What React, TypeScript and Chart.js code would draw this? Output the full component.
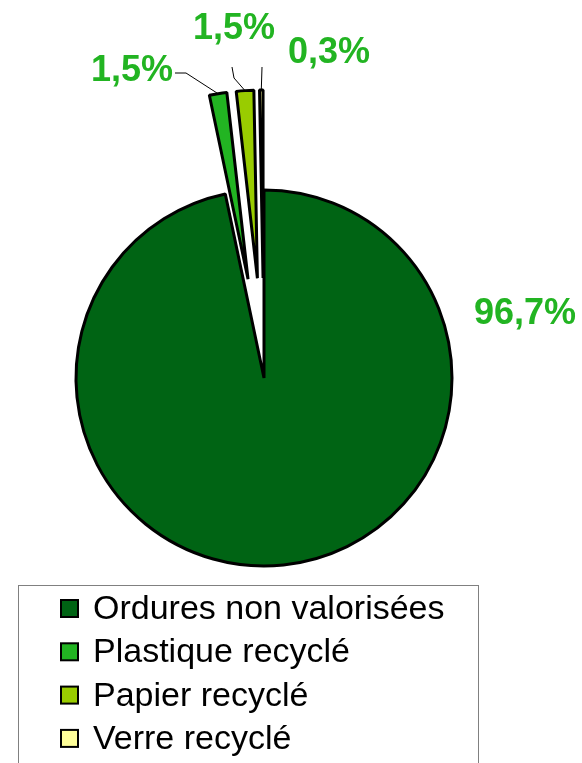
import React, { useEffect, useRef } from "react";
import { Chart, registerables } from "chart.js";

Chart.register(...registerables);

const categories = ["Ordures non valorisées", "Plastique recyclé", "Papier recyclé", "Verre recyclé"];
const values = [96.7, 1.5, 1.5, 0.3];
const colors = ["#006414", "#22b422", "#99cc00", "#ffff99"];

const fmt = (v: number) => v.toFixed(1).replace(".", ",") + "%";

const explodePlugin = {
  id: "explode",
  beforeDatasetDraw(chart: any, args: any, opts: any) {
    const ctx = chart.ctx;
    const d: number[] = opts.distances || [];
    args.meta.data.forEach((arc: any, i: number) => {
      const mid = (arc.startAngle + arc.endAngle) / 2;
      const e = d[i] || 0;
      ctx.save();
      ctx.translate(Math.cos(mid) * e, Math.sin(mid) * e);
      arc.draw(ctx, chart.chartArea);
      ctx.restore();
    });
    return false;
  },
};

const labelPlugin = {
  id: "sliceLabels",
  afterDatasetsDraw(chart: any, _args: any, opts: any) {
    const ctx = chart.ctx;
    const meta = chart.getDatasetMeta(0);
    const data = chart.data.datasets[0].data as number[];
    const d: number[] = chart.options.plugins.explode.distances || [];
    ctx.save();
    meta.data.forEach((arc: any, i: number) => {
      const mid = (arc.startAngle + arc.endAngle) / 2;
      const r = arc.outerRadius + (d[i] || 0);
      const ox = arc.x + Math.cos(mid) * r;
      const oy = arc.y + Math.sin(mid) * r;
      const L = opts.items[i];
      if (L.line) {
        ctx.beginPath();
        ctx.strokeStyle = "#000";
        ctx.lineWidth = 1;
        ctx.moveTo(L.line[0][0], L.line[0][1]);
        for (let k = 1; k < L.line.length; k++) ctx.lineTo(L.line[k][0], L.line[k][1]);
        ctx.lineTo(ox, oy);
        ctx.stroke();
      }
      ctx.fillStyle = opts.color;
      ctx.font = opts.font;
      ctx.textAlign = "center";
      ctx.textBaseline = "middle";
      ctx.fillText(fmt(data[i]), L.x, L.y);
    });
    ctx.restore();
  },
};

const boxLegendPlugin = {
  id: "boxLegend",
  afterDraw(chart: any, _args: any, opts: any) {
    const ctx = chart.ctx;
    const labels = chart.data.labels as string[];
    const bg = chart.data.datasets[0].backgroundColor as string[];
    ctx.save();
    ctx.strokeStyle = "#808080";
    ctx.lineWidth = 1;
    ctx.strokeRect(opts.x + 0.5, opts.y + 0.5, opts.w, opts.h);
    ctx.font = opts.font;
    ctx.textAlign = "left";
    ctx.textBaseline = "alphabetic";
    labels.forEach((lab, i) => {
      const base = opts.firstBaseline + i * opts.rowH;
      const my = base - 19;
      ctx.fillStyle = bg[i];
      ctx.fillRect(opts.markerX, my, 17, 17);
      ctx.strokeStyle = "#000";
      ctx.lineWidth = 2;
      ctx.strokeRect(opts.markerX, my, 17, 17);
      ctx.fillStyle = "#000";
      ctx.fillText(lab, opts.textX, base);
    });
    ctx.restore();
  },
};

export default function App() {
  const ref = useRef<HTMLCanvasElement>(null);
  useEffect(() => {
    const chart = new Chart(ref.current as HTMLCanvasElement, {
      type: "pie",
      data: {
        labels: categories,
        datasets: [
          {
            data: values,
            backgroundColor: colors,
            borderColor: "#000",
            borderWidth: 3,
            radius: 188,
          } as any,
        ],
      },
      options: {
        responsive: false,
        animation: false,
        layout: { padding: { left: 0, right: 54, top: 0, bottom: 7 } },
        plugins: {
          legend: { display: false },
          tooltip: { enabled: false },
          explode: { distances: [0, 100, 100, 100] },
          sliceLabels: {
            color: "#22b422",
            font: "bold 36px 'Liberation Sans', Arial, sans-serif",
            items: [
              { x: 525, y: 314 },
              { x: 132, y: 71, line: [[175, 73], [186, 73]] },
              { x: 234, y: 29, line: [[232, 67], [234, 78]] },
              { x: 329, y: 53, line: [[262, 67]] },
            ],
          },
          boxLegend: {
            x: 18,
            y: 585,
            w: 460,
            h: 200,
            markerX: 61,
            textX: 93,
            firstBaseline: 619,
            rowH: 43.3,
            font: "34px 'Liberation Sans', Arial, sans-serif",
          },
        } as any,
      },
      plugins: [explodePlugin, labelPlugin, boxLegendPlugin],
    });
    return () => chart.destroy();
  }, []);
  return (
    <canvas
      ref={ref}
      width={582}
      height={763}
      style={{ position: "absolute", left: 0, top: 0, width: 582, height: 763 }}
    />
  );
}
